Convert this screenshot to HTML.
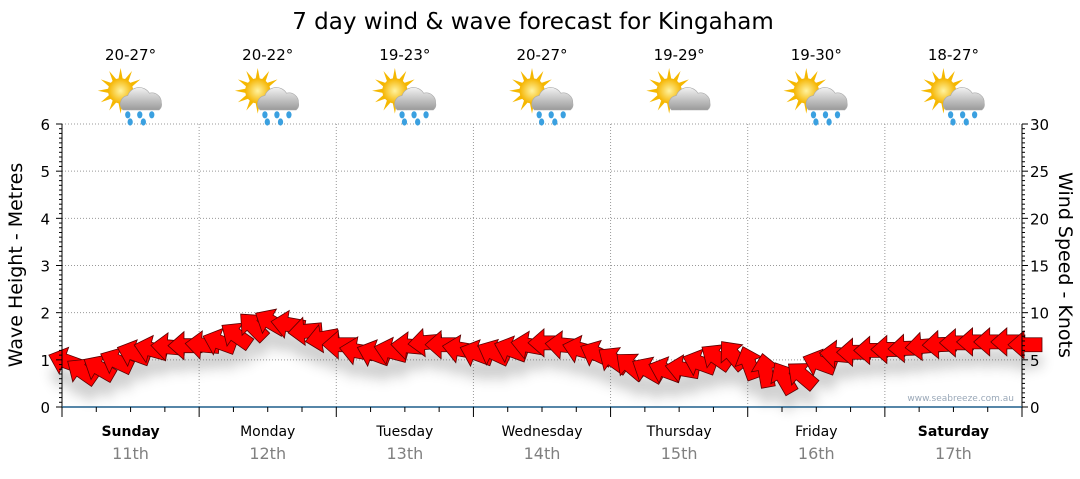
<!DOCTYPE html>
<html><head><meta charset="utf-8"><style>
body{margin:0;background:#fff;width:1080px;height:475px;overflow:hidden;font-family:"DejaVu Sans","Liberation Sans",sans-serif}
svg text{font-family:"DejaVu Sans","Liberation Sans",sans-serif}
</style></head><body>
<svg id="c" width="1080" height="475" viewBox="0 0 1080 475">
<defs>
<filter id="sh" x="-20%" y="-50%" width="140%" height="250%"><feGaussianBlur stdDeviation="6"/></filter>
<radialGradient id="sun" cx="0.5" cy="0.5" r="0.5"><stop offset="0" stop-color="#fff3a0"/><stop offset="1" stop-color="#f5b400"/></radialGradient>
<linearGradient id="cloud" x1="0" y1="0" x2="0" y2="1"><stop offset="0" stop-color="#f2f2f2"/><stop offset="1" stop-color="#9a9a9a"/></linearGradient>
</defs>
<text x="533" y="29" font-size="23" text-anchor="middle" fill="#000">7 day wind &amp; wave forecast for Kingaham</text>
<g id="grid"></g>
<g id="shadow" filter="url(#sh)" opacity="0.28"></g>
<g id="arrows"></g>
<g id="axes"></g>
<text x="1014" y="401" font-size="9" fill="#9aa8b8" text-anchor="end">www.seabreeze.com.au</text>
<text transform="translate(22,265) rotate(-90)" font-size="19" text-anchor="middle">Wave Height - Metres</text>
<text transform="translate(1059,265) rotate(90)" font-size="19" text-anchor="middle">Wind Speed - Knots</text>
</svg>
<script>
const days=["Sunday","Monday","Tuesday","Wednesday","Thursday","Friday","Saturday"];
const dates=["11th","12th","13th","14th","15th","16th","17th"];
const temps=["20-27°","20-22°","19-23°","20-27°","19-29°","19-30°","18-27°"];
const rainy=[1,1,1,1,0,1,1];
const waveTicks=[0,1,2,3,4,5,6];
const windTicks=[0,5,10,15,20,25,30];
// wind speed (knots) every 3 hours
const windSpeed=[5.0,4.0,4.3,5.0,5.8,6.2,6.4,6.5,6.6,7.0,7.8,8.8,9.2,8.8,8.0,7.2,6.6,6.0,5.8,6.0,6.5,6.8,6.6,6.2,5.8,5.9,6.2,6.6,6.8,6.6,6.2,5.8,5.2,4.6,4.1,4.0,4.1,4.8,5.5,5.8,5.0,4.2,3.4,3.6,4.8,5.6,5.8,6.0,6.1,6.2,6.4,6.6,6.8,6.9,6.9,6.9,6.6];
// arrow pointing direction (deg, 180 = left)
const windDir=[200,215,210,205,200,195,185,180,185,200,215,225,210,190,175,170,180,190,200,195,185,175,180,190,200,205,200,190,180,185,195,205,215,220,210,200,190,200,215,230,250,260,240,220,200,185,180,180,180,178,175,178,180,180,180,180,180];
const NS="http://www.w3.org/2000/svg";
const X0=62,X1=1022,Y0=407,Y1=124;
const xs=i=>X0+i*(X1-X0)/(windSpeed.length-1);
const yWave=v=>Y0-v*(Y0-Y1)/6;
const yWind=v=>Y0-v*(Y0-Y1)/30;
function mk(tag,attrs,parent){const e=document.createElementNS(NS,tag);for(const k in attrs)e.setAttribute(k,attrs[k]);parent.appendChild(e);return e;}
const grid=document.getElementById('grid'),axes=document.getElementById('axes');
const dw=(X1-X0)/7;
waveTicks.forEach(v=>{
  if(v>0){const l=mk('line',{x1:X0,x2:X1,y1:yWave(v),y2:yWave(v),stroke:'#999','stroke-dasharray':'1,2'},grid);
  
  }
  const t=mk('text',{x:50,y:yWave(v)+6,'font-size':15,'text-anchor':'end'},axes);t.textContent=v;
  
  
});
windTicks.forEach(v=>{
  const t=mk('text',{x:1030,y:yWind(v)+6,'font-size':15},axes);t.textContent=v;
  
  
});
for(let m=0;m<=60;m++){const y=Y0-m*(Y0-Y1)/60;const len=m%10==0?6:3;
  mk('line',{x1:X0-len,x2:X0,y1:y,y2:y,stroke:'#000'},axes);
  mk('line',{x1:X1,x2:X1+len,y1:y,y2:y,stroke:'#000'},axes);}
mk('line',{x1:X0,x2:X0,y1:Y1,y2:Y0,stroke:'#000'},axes);
mk('line',{x1:X1,x2:X1,y1:Y1,y2:Y0,stroke:'#000'},axes);
mk('line',{x1:X0,x2:X1,y1:Y0,y2:Y0,stroke:'#1f5f8b','stroke-width':1.5},axes);
for(let k=0;k<=28;k++){const x=X0+k*dw/4;mk('line',{x1:x,x2:x,y1:Y0,y2:Y0+(k%4==0?10:5),stroke:'#000'},axes);}
days.forEach((d,i)=>{
  const cx=X0+dw*(i+0.5);
  if(i>0){const l=mk('line',{x1:X0+dw*i,x2:X0+dw*i,y1:Y1,y2:Y0,stroke:'#999','stroke-dasharray':'1,2'},grid);
  
  }
  const t=mk('text',{x:cx,y:436,'font-size':14,'text-anchor':'middle','font-weight':(i==0||i==6)?'bold':'normal'},axes);t.textContent=d;
  
  
  const t2=mk('text',{x:cx,y:459,'font-size':16,'text-anchor':'middle',fill:'#808080'},axes);t2.textContent=dates[i];
  
  
  const t3=mk('text',{x:cx,y:60,'font-size':15,'text-anchor':'middle'},axes);t3.textContent=temps[i];
  
  
  const g=mk('g',{transform:`translate(${cx+2},98) scale(1.2)`},axes);
  
  
  for(let r=0;r<12;r++){const a=r*Math.PI/6;mk('polygon',{points:`${-10+Math.cos(a)*19},${-6+Math.sin(a)*19} ${-10+Math.cos(a+0.18)*10},${-6+Math.sin(a+0.18)*10} ${-10+Math.cos(a-0.18)*10},${-6+Math.sin(a-0.18)*10}`,fill:'#f5b800'},g);}
  mk('circle',{cx:-10,cy:-6,r:10.5,fill:'url(#sun)'},g);
  mk('path',{d:'M-8,10 a7,7 0 0 1 4,-12 a10,10 0 0 1 18,-2 a8,8 0 0 1 10,8 a6,6 0 0 1 -2,6 z',fill:'url(#cloud)',stroke:'#aaa','stroke-width':0.5},g);
  if(rainy[i]){[[-4,14],[6,14],[16,14],[-2,20],[9,20]].forEach(p=>mk('ellipse',{cx:p[0],cy:p[1],rx:2.2,ry:3,fill:'#3aa0e0'},g));}
});
const sh=document.getElementById('shadow'),ar=document.getElementById('arrows');
const arrowPts="14,0 -2,-14 -2,-7 -20,-7 -20,7 -2,7 -2,14";
windSpeed.forEach((v,i)=>{
  const x=xs(i),y=yWind(v);
  mk('polygon',{points:arrowPts,transform:`translate(${x},${y+16}) rotate(${windDir[i]})`,fill:'#555'},sh);
  const p=mk('polygon',{points:arrowPts,transform:`translate(${x},${y}) rotate(${windDir[i]})`,fill:'#ff0000',stroke:'#5a0000','stroke-width':0.8},ar);
  
  
});
</script>
</body></html>
